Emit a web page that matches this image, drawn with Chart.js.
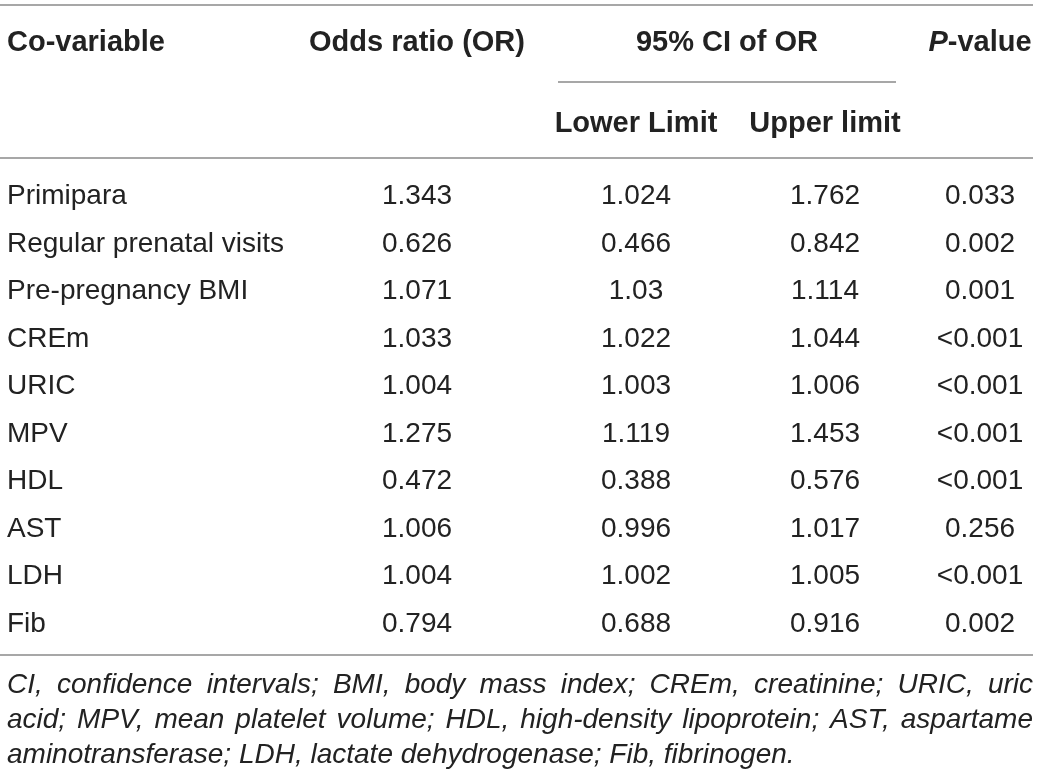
<!DOCTYPE html>
<html>
<head>
<meta charset="utf-8">
<script src="https://cdn.jsdelivr.net/npm/chart.js@4"></script>
<style>
html,body{margin:0;padding:0;background:#fff;}
#wrap{width:1040px;height:779px;}
</style>
</head>
<body>
<div id="wrap"><canvas id="c" width="1040" height="779"></canvas></div>
<script>
// ---- data ----
const covariables = ["Primipara","Regular prenatal visits","Pre-pregnancy BMI","CREm","URIC","MPV","HDL","AST","LDH","Fib"];
const oddsRatio   = ["1.343","0.626","1.071","1.033","1.004","1.275","0.472","1.006","1.004","0.794"];
const lowerLimit  = ["1.024","0.466","1.03","1.022","1.003","1.119","0.388","0.996","1.002","0.688"];
const upperLimit  = ["1.762","0.842","1.114","1.044","1.006","1.453","0.576","1.017","1.005","0.916"];
const pValues     = ["0.033","0.002","0.001","<0.001","<0.001","<0.001","<0.001","0.256","<0.001","0.002"];
const headerTop   = ["Co-variable","Odds ratio (OR)","95% CI of OR","-value"];
const headerSub   = ["Lower Limit","Upper limit"];
const footnoteLines = [
  "CI, confidence intervals; BMI, body mass index; CREm, creatinine; URIC, uric",
  "acid; MPV, mean platelet volume; HDL, high-density lipoprotein; AST, aspartame",
  "aminotransferase; LDH, lactate dehydrogenase; Fib, fibrinogen."
];

// ---- layout (positions / styles) ----
const L = {
  W:1040, H:779,
  firstBaseline:204, rowStep:47.56,
  leftX:7, rightX:1033,
  colOR:417, colLow:636, colUp:825, colP:980, colCI:727,
  ciLineX0:558, ciLineX1:896,
  topLine:5, ciLine:82, headLine:158, bottomLine:655,
  head1:51, head2:132,
  foot:[693,728,763],
  text:'#222', rule:'#8a8a8a',
  fam:'"Liberation Sans", Arial, Helvetica, sans-serif'
};
const yMin = -L.firstBaseline / L.rowStep;
const yMax = yMin + L.H / L.rowStep;

const tablePlugin = {
  id:'tablePlugin',
  afterDraw(chart){
    const ctx = chart.ctx, xs = chart.scales.x, ys = chart.scales.y;
    ctx.save();
    // rules
    ctx.strokeStyle = L.rule; ctx.lineWidth = 1.5;
    const hline = (y,x0,x1)=>{ctx.beginPath();ctx.moveTo(xs.getPixelForValue(x0),y);ctx.lineTo(xs.getPixelForValue(x1),y);ctx.stroke();};
    hline(L.topLine,0,L.rightX);
    hline(L.ciLine,L.ciLineX0,L.ciLineX1);
    hline(L.headLine,0,L.rightX);
    hline(L.bottomLine,0,L.rightX);

    ctx.fillStyle = L.text;
    ctx.textBaseline = 'alphabetic';
    // header row 1
    ctx.font = 'bold 29px ' + L.fam;
    ctx.textAlign = 'left';
    ctx.fillText(headerTop[0], xs.getPixelForValue(L.leftX), L.head1);
    ctx.textAlign = 'center';
    ctx.fillText(headerTop[1], xs.getPixelForValue(L.colOR), L.head1);
    ctx.fillText(headerTop[2], xs.getPixelForValue(L.colCI), L.head1);
    // P-value with italic P
    ctx.font = 'italic bold 29px ' + L.fam;
    const wP = ctx.measureText('P').width;
    ctx.font = 'bold 29px ' + L.fam;
    const wV = ctx.measureText(headerTop[3]).width;
    const pStart = xs.getPixelForValue(L.colP) - (wP + wV)/2;
    ctx.textAlign = 'left';
    ctx.font = 'italic bold 29px ' + L.fam;
    ctx.fillText('P', pStart, L.head1);
    ctx.font = 'bold 29px ' + L.fam;
    ctx.fillText(headerTop[3], pStart + wP, L.head1);
    // header row 2
    ctx.textAlign = 'center';
    ctx.fillText(headerSub[0], xs.getPixelForValue(L.colLow), L.head2);
    ctx.fillText(headerSub[1], xs.getPixelForValue(L.colUp), L.head2);

    // body
    ctx.font = '28px ' + L.fam;
    covariables.forEach((name,i)=>{
      const y = ys.getPixelForValue(i);
      ctx.textAlign = 'left';
      ctx.fillText(name, xs.getPixelForValue(L.leftX), y);
      ctx.textAlign = 'center';
      ctx.fillText(oddsRatio[i], xs.getPixelForValue(L.colOR), y);
      ctx.fillText(lowerLimit[i], xs.getPixelForValue(L.colLow), y);
      ctx.fillText(upperLimit[i], xs.getPixelForValue(L.colUp), y);
      ctx.fillText(pValues[i], xs.getPixelForValue(L.colP), y);
    });

    // footnote (justified)
    ctx.font = 'italic 28px ' + L.fam;
    ctx.textAlign = 'left';
    const x0 = xs.getPixelForValue(L.leftX), x1 = xs.getPixelForValue(L.rightX);
    footnoteLines.forEach((line,k)=>{
      const y = L.foot[k];
      const words = line.split(' ');
      const justify = k < footnoteLines.length - 1;
      const widths = words.map(w=>ctx.measureText(w).width);
      const total = widths.reduce((a,b)=>a+b,0);
      const gap = justify ? (x1 - x0 - total)/(words.length-1) : ctx.measureText(' ').width;
      let x = x0;
      words.forEach((w,j)=>{ ctx.fillText(w, x, y); x += widths[j] + gap; });
    });
    ctx.restore();
  }
};

// invisible anchor points: one per cell, positioned by the scales
const cellPoints = [];
covariables.forEach((_,i)=>{
  [L.colOR,L.colLow,L.colUp,L.colP].forEach(cx=>cellPoints.push({x:cx,y:i}));
});

new Chart(document.getElementById('c'), {
  type:'scatter',
  data:{datasets:[{data:cellPoints,pointRadius:0,pointHoverRadius:0,showLine:false}]},
  options:{
    responsive:false, animation:false, devicePixelRatio:1,
    layout:{padding:0},
    plugins:{legend:{display:false},tooltip:{enabled:false}},
    events:[],
    scales:{
      x:{type:'linear',min:0,max:L.W,display:false},
      y:{type:'linear',min:yMin,max:yMax,reverse:true,display:false}
    }
  },
  plugins:[tablePlugin]
});
</script>
</body>
</html>
